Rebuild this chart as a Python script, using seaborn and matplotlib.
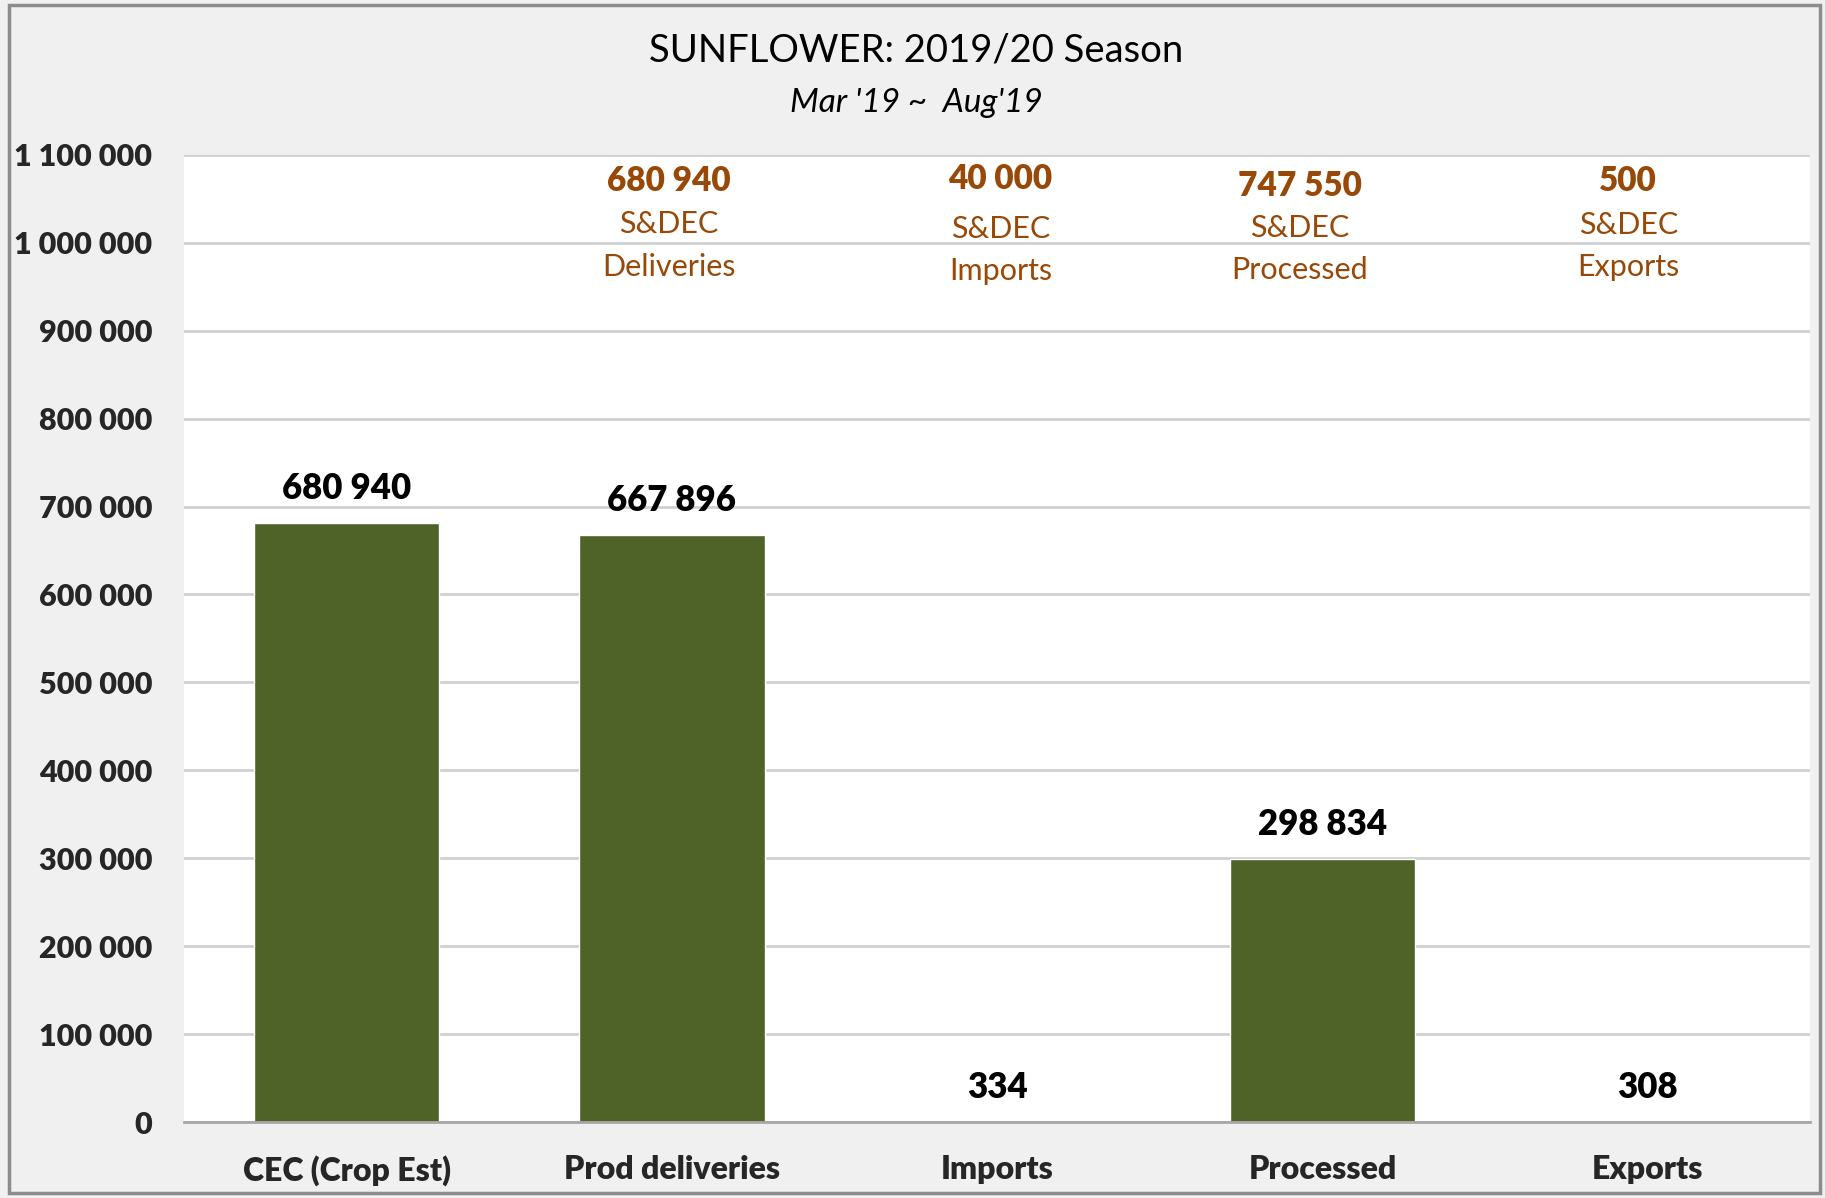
"""
Sunflower 2019/20 season bar chart, recreated with Seaborn.
"""

import matplotlib
matplotlib.use("Agg")
import matplotlib.pyplot as plt
import pandas as pd
import seaborn as sns
from matplotlib.patches import Rectangle
from matplotlib.ticker import FuncFormatter, MultipleLocator

# Chart data
categories = ["CEC (Crop Est)", "Prod deliveries", "Imports", "Processed", "Exports"]
values = [680940, 667896, 334, 298834, 308]

# S&DEC comparison notes shown at the top of the plot
note_categories = ["Prod deliveries", "Imports", "Processed", "Exports"]
note_values = [680940, 40000, 747550, 500]
note_names = ["Deliveries", "Imports", "Processed", "Exports"]

title_text = "SUNFLOWER: 2019/20 Season"
subtitle_text = "Mar '19 ~  Aug'19"

BAR_COLOR = "#4f6228"
NOTE_COLOR = "#984807"


def space_thousands(value: float) -> str:
    """Format a number with a space as thousands separator."""
    return f"{int(round(value)):,}".replace(",", " ")


def main() -> None:
    sns.set_theme(style="white")
    plt.rcParams["font.family"] = ["Lato", "DejaVu Sans"]

    df = pd.DataFrame({"Category": categories, "Value": values})

    fig = plt.figure(figsize=(18.25, 11.98), dpi=100)
    fig.patch.set_facecolor("#f0f0f0")
    fig.patches.append(
        Rectangle((0.005, 0.004), 0.992, 0.992, transform=fig.transFigure,
                  fill=False, edgecolor="#8c8c8c", linewidth=2.5)
    )

    ax = fig.add_axes([0.1008, 0.0634, 0.8912, 0.8074])
    ax.set_facecolor("white")

    sns.barplot(data=df, x="Category", y="Value", color=BAR_COLOR,
                width=0.57, saturation=1, ax=ax, zorder=3)

    ax.set_xlim(-0.5, len(categories) - 0.5)
    ax.set_ylim(0, 1100000)
    ax.yaxis.set_major_locator(MultipleLocator(100000))
    ax.yaxis.set_major_formatter(FuncFormatter(lambda v, _: space_thousands(v)))
    ax.grid(axis="y", color="#d0d0d0", linewidth=2, zorder=0)
    ax.set_axisbelow(True)

    for side in ["left", "right", "top"]:
        ax.spines[side].set_visible(False)
    ax.spines["bottom"].set_color("#a6a6a6")
    ax.spines["bottom"].set_linewidth(2)
    ax.spines["bottom"].set_zorder(4)

    ax.set_xlabel("")
    ax.set_ylabel("")
    ax.tick_params(axis="y", length=0, pad=23, labelsize=22)
    ax.tick_params(axis="x", length=0, pad=24, labelsize=23)
    for label in ax.get_xticklabels() + ax.get_yticklabels():
        label.set_fontweight("heavy")

    # Value labels on the bars
    ax.bar_label(ax.containers[0],
                 labels=[space_thousands(v) for v in values],
                 padding=13, fontsize=25, fontweight="heavy", color="black")

    # S&DEC notes (three stacked lines per category)
    note_layout = {
        "Prod deliveries": (-0.01, 1070000, 1021000, 972000),
        "Imports": (0.01, 1073000, 1016000, 968000),
        "Processed": (-0.07, 1065000, 1017000, 969500),
        "Exports": (-0.06, 1070000, 1020000, 972000),
    }
    for cat, val, name in zip(note_categories, note_values, note_names):
        dx, y_val, y_sdec, y_name = note_layout[cat]
        xpos = categories.index(cat) + dx
        ax.text(xpos, y_val, space_thousands(val), ha="center",
                va="center", fontsize=24, fontweight="heavy", color=NOTE_COLOR)
        ax.text(xpos, y_sdec, "S&DEC", ha="center", va="center",
                fontsize=22, color=NOTE_COLOR)
        ax.text(xpos, y_name, name, ha="center", va="center",
                fontsize=22, color=NOTE_COLOR)

    # Titles
    fig.text(0.502, 0.958, title_text, ha="center", va="center",
             fontsize=27.5, color="black")
    fig.text(0.502, 0.914, subtitle_text, ha="center", va="center",
             fontsize=24, style="italic", color="black")

    fig.savefig("out.png", dpi=100, facecolor=fig.get_facecolor())


if __name__ == "__main__":
    main()
